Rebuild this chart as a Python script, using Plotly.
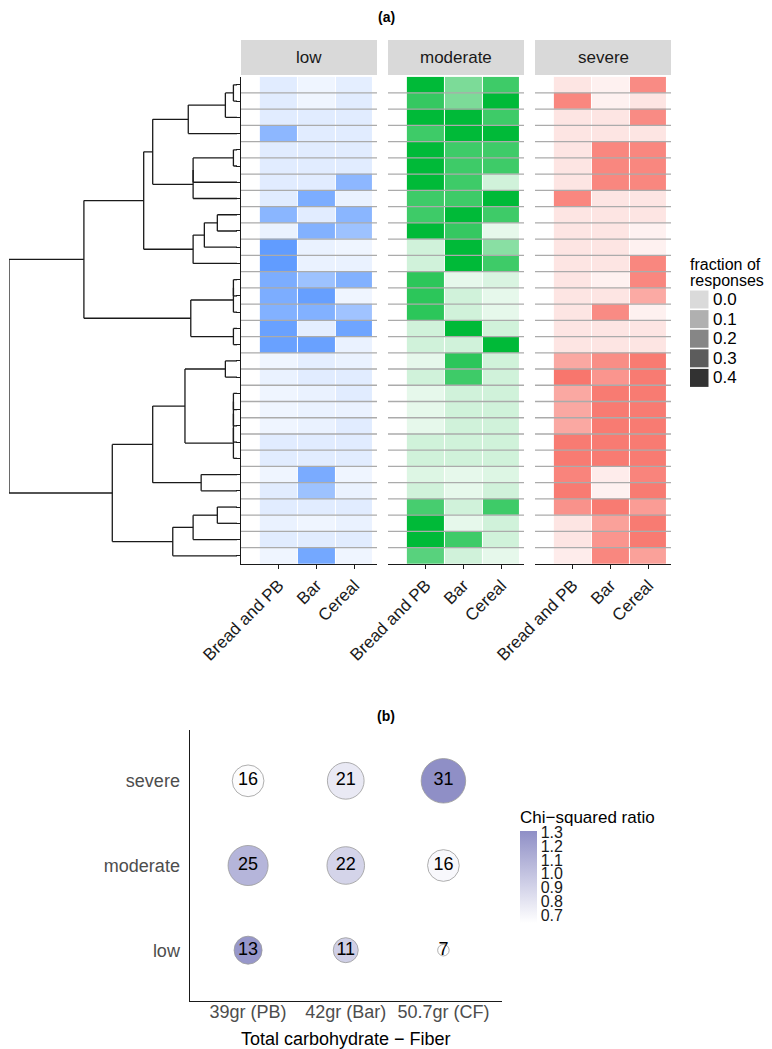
import plotly.graph_objects as go

PAGE_OFFSET = 8  # default page margin around the plot div
W, H = 772 - 2 * PAGE_OFFSET, 1049 - PAGE_OFFSET
FONT = "Liberation Sans, Arial, sans-serif"

# ---------------- data: panel (a) ----------------
products = ["Bread and PB", "Bar", "Cereal"]
severities = ["low", "moderate", "severe"]
n_rows = 30

low_pb = [0.05, 0.05, 0.05, 0.36, 0.05, 0.05, 0.05, 0.05, 0.37, 0.02, 0.52, 0.52, 0.42, 0.42, 0.40,
          0.49, 0.49, 0.00, 0.02, 0.00, 0.00, 0.00, 0.05, 0.05, 0.00, 0.05, 0.05, 0.02, 0.05, 0.00]
low_bar = [0.00, 0.00, 0.05, 0.05, 0.05, 0.05, 0.05, 0.42, 0.05, 0.40, 0.02, 0.02, 0.30, 0.50, 0.40,
           0.04, 0.49, 0.04, 0.05, 0.02, 0.02, 0.02, 0.05, 0.05, 0.43, 0.30, 0.05, 0.00, 0.05, 0.45]
low_cer = [0.04, 0.05, 0.05, 0.05, 0.05, 0.05, 0.36, 0.02, 0.37, 0.30, 0.00, 0.02, 0.40, 0.00, 0.29,
           0.47, 0.02, 0.02, 0.05, 0.05, 0.02, 0.05, 0.05, 0.05, 0.00, 0.02, 0.05, 0.02, 0.05, 0.00]

mod_pb = [0.52, 0.40, 0.52, 0.38, 0.52, 0.52, 0.52, 0.38, 0.38, 0.52, 0.05, 0.05, 0.42, 0.42, 0.42,
          0.05, 0.05, 0.00, 0.05, 0.00, 0.00, 0.00, 0.05, 0.05, 0.02, 0.05, 0.36, 0.52, 0.52, 0.32]
mod_bar = [0.24, 0.24, 0.52, 0.52, 0.38, 0.38, 0.38, 0.38, 0.52, 0.40, 0.52, 0.52, 0.00, 0.05, 0.05,
           0.52, 0.05, 0.42, 0.38, 0.05, 0.05, 0.05, 0.05, 0.05, 0.00, 0.00, 0.05, 0.00, 0.38, 0.05]
mod_cer = [0.38, 0.52, 0.38, 0.52, 0.38, 0.38, 0.05, 0.52, 0.38, 0.00, 0.21, 0.38, 0.03, 0.00, 0.00,
           0.05, 0.52, 0.05, 0.05, 0.05, 0.05, 0.05, 0.05, 0.05, 0.02, 0.05, 0.38, 0.05, 0.05, 0.00]

sev_pb = [0.05, 0.45, 0.05, 0.05, 0.05, 0.05, 0.05, 0.45, 0.05, 0.05, 0.05, 0.05, 0.05, 0.05, 0.05,
          0.05, 0.05, 0.31, 0.52, 0.31, 0.31, 0.31, 0.50, 0.50, 0.46, 0.50, 0.40, 0.05, 0.05, 0.02]
sev_bar = [0.00, 0.00, 0.05, 0.05, 0.45, 0.45, 0.45, 0.05, 0.05, 0.05, 0.05, 0.05, 0.00, 0.05, 0.43,
           0.05, 0.05, 0.42, 0.39, 0.50, 0.50, 0.50, 0.50, 0.50, 0.02, 0.00, 0.50, 0.34, 0.39, 0.45]
sev_cer = [0.43, 0.05, 0.43, 0.05, 0.45, 0.45, 0.45, 0.05, 0.05, 0.00, 0.00, 0.45, 0.45, 0.30, 0.00,
           0.05, 0.05, 0.50, 0.50, 0.50, 0.50, 0.50, 0.50, 0.50, 0.46, 0.50, 0.36, 0.50, 0.50, 0.34]

facet_colors = ["#619CFF", "#00BA38", "#F8766D"]
legend_breaks = [0.0, 0.1, 0.2, 0.3, 0.4]
alpha_max_value = 0.52

# dendrogram linkage: (child_a, child_b, merge height); leaves are 0..29 in plotted order
linkage = [
    (0, 1, 3.7), (30, 2, 12.0), (31, 3, 50.3), (4, 5, 3.7), (33, 6, 45.3), (34, 7, 45.3),
    (32, 35, 87.0), (8, 9, 20.3), (37, 10, 33.7), (38, 11, 45.3), (36, 39, 96.3),
    (12, 13, 3.7), (41, 14, 3.7), (15, 16, 3.7), (42, 43, 47.7), (40, 44, 158.0),
    (17, 18, 12.0), (19, 20, 3.7), (47, 21, 3.7), (48, 22, 3.7), (49, 23, 3.7),
    (46, 50, 53.7), (24, 25, 37.0), (51, 52, 87.0), (26, 27, 20.3), (54, 28, 45.3),
    (55, 29, 66.3), (53, 56, 128.7), (45, 57, 235.3),
]

# ---------------- data: panel (b) ----------------
carb_labels = ["39gr (PB)", "42gr (Bar)", "50.7gr (CF)"]
sev_rows = ["low", "moderate", "severe"]
counts_low = [13, 11, 7]
counts_mod = [25, 22, 16]
counts_sev = [16, 21, 31]
chi_low = [1.26, 0.93, 0.64]
chi_mod = [1.08, 0.90, 0.68]
chi_sev = [0.66, 0.77, 1.31]
chi_ticks = [0.7, 0.8, 0.9, 1.0, 1.1, 1.2, 1.3]


def px_x(p):
    return min(1.0, max(0.0, (p - PAGE_OFFSET) / W))


def px_y(p):
    return min(1.0, max(0.0, 1 - (p - PAGE_OFFSET) / H))


def blend(hex_color, a, bg=(255, 255, 255)):
    h = hex_color.lstrip("#")
    r, g, b = int(h[0:2], 16), int(h[2:4], 16), int(h[4:6], 16)
    c = [round(bg[i] * (1 - a) + v * a) for i, v in enumerate((r, g, b))]
    return "#%02x%02x%02x" % tuple(c)


fig = go.Figure()

# heat panel geometry (px)
top_px, bot_px = 76.7, 563.9
ydom = [px_y(bot_px), px_y(top_px)]
facet_px = [(241, 377), (388, 524), (535, 671)]

# ---- dendrogram
pos = {i: float(i) for i in range(n_rows)}
hgt = {i: 0.0 for i in range(n_rows)}
dx, dy = [], []
for k, (a, b, h) in enumerate(linkage):
    nid = n_rows + k
    for c in (a, b):
        dx += [hgt[c], h, None]
        dy += [pos[c], pos[c], None]
    dx += [h, h, None]
    dy += [pos[a], pos[b], None]
    pos[nid] = (pos[a] + pos[b]) / 2
    hgt[nid] = h
root_h = max(hgt.values())
fig.add_trace(go.Scatter(x=dx, y=dy, mode="lines", line=dict(color="#1a1a1a", width=1.3),
                         hoverinfo="skip", showlegend=False, xaxis="x", yaxis="y",
                         cliponaxis=False))

# ---- heatmaps
facet_data = [(low_pb, low_bar, low_cer), (mod_pb, mod_bar, mod_cer), (sev_pb, sev_bar, sev_cer)]
shapes = []
annotations = []
for f, (cols, base) in enumerate(zip(facet_data, facet_colors)):
    ax = f + 2
    z = [[cols[0][i], cols[1][i], cols[2][i]] for i in range(n_rows)]
    fig.add_trace(go.Heatmap(
        x=[1, 2, 3], y=list(range(n_rows)), z=z,
        colorscale=[[0, blend(base, 0.1)], [1, base]], zmin=0, zmax=alpha_max_value,
        showscale=False, xgap=1, hoverinfo="skip",
        xaxis="x%d" % ax, yaxis="y%d" % ax))
    for i in range(n_rows - 1):
        shapes.append(dict(type="line", xref="x%d domain" % ax, yref="y%d" % ax,
                           x0=0, x1=1, y0=i + 0.5, y1=i + 0.5,
                           line=dict(color="#ababab", width=1.3), layer="above"))
    x0p, x1p = facet_px[f]
    shapes.append(dict(type="rect", xref="paper", yref="paper",
                       x0=px_x(x0p), x1=px_x(x1p), y0=px_y(75), y1=px_y(40),
                       fillcolor="#d9d9d9", line=dict(width=0)))
    annotations.append(dict(text=severities[f], xref="paper", yref="paper",
                            x=px_x((x0p + x1p) / 2), y=px_y(57.5), showarrow=False,
                            font=dict(size=17, color="#1a1a1a", family=FONT),
                            xanchor="center", yanchor="middle"))

# ---- legend for fraction of responses
annotations.append(dict(text="fraction of", xref="paper", yref="paper", x=px_x(688), y=px_y(264),
                        showarrow=False, xanchor="left", yanchor="middle",
                        font=dict(size=16, color="#000000", family=FONT)))
annotations.append(dict(text="responses", xref="paper", yref="paper", x=px_x(688), y=px_y(281),
                        showarrow=False, xanchor="left", yanchor="middle",
                        font=dict(size=16, color="#000000", family=FONT)))
for k, v in enumerate(legend_breaks):
    a = 0.1 + 0.9 * v / alpha_max_value
    col = blend("#000000", a, bg=(242, 242, 242))
    yc = 299.5 + k * 19.6
    shapes.append(dict(type="rect", xref="paper", yref="paper",
                       x0=px_x(690), x1=px_x(708.5), y0=px_y(yc + 9), y1=px_y(yc - 9),
                       fillcolor=col, line=dict(width=0)))
    annotations.append(dict(text="%.1f" % v, xref="paper", yref="paper", x=px_x(711), y=px_y(yc),
                            showarrow=False, xanchor="left", yanchor="middle",
                            font=dict(size=17, color="#000000", family=FONT)))

# ---- panel (b) bubbles
bx, by, bc, bchi = [], [], [], []
for r, (cnts, chis) in enumerate([(counts_low, chi_low), (counts_mod, chi_mod), (counts_sev, chi_sev)]):
    for c in range(3):
        bx.append(c + 1)
        by.append(r + 1)
        bc.append(cnts[c])
        bchi.append(chis[c])
cmin_v, cmax_v = min(bc), max(bc)
sizes = [11.5 + 33 * ((v - cmin_v) / (cmax_v - cmin_v)) ** 0.5 for v in bc]
bar_top, bar_bot, title_room = 831.7, 923.3, 24
fig.add_trace(go.Scatter(
    x=bx, y=by, mode="markers+text", text=[str(v) for v in bc],
    textposition="middle center", textfont=dict(size=18, color="#000000", family=FONT),
    marker=dict(size=sizes, color=bchi, colorscale=[[0, "#ffffff"], [1, "#8f8fc6"]],
                cmin=min(bchi), cmax=max(bchi), line=dict(color="#9a9a9a", width=0.8), opacity=1,
                showscale=True,
                colorbar=dict(
                    title=dict(text="Chi−squared ratio", side="top",
                               font=dict(size=17, color="#000000", family=FONT)),
                    x=px_x(520), xanchor="left", xpad=0,
                    y=px_y(bar_bot), yanchor="bottom", ypad=0,
                    len=bar_bot - bar_top + title_room, lenmode="pixels",
                    thickness=16.7, thicknessmode="pixels",
                    outlinewidth=0, ticks="",
                    tickvals=chi_ticks, ticktext=["%.1f" % t for t in chi_ticks],
                    tickfont=dict(size=16, color="#1a1a1a", family=FONT))),
    hoverinfo="skip", showlegend=False, xaxis="x5", yaxis="y5"))

annotations.append(dict(text="<b>(a)</b>", xref="paper", yref="paper", x=px_x(386), y=px_y(17),
                        showarrow=False, xanchor="center", yanchor="middle",
                        font=dict(size=14, color="#000000", family=FONT)))
annotations.append(dict(text="<b>(b)</b>", xref="paper", yref="paper", x=px_x(386), y=px_y(716),
                        showarrow=False, xanchor="center", yanchor="middle",
                        font=dict(size=14, color="#000000", family=FONT)))
annotations.append(dict(text="Total carbohydrate − Fiber", xref="paper", yref="paper",
                        x=px_x(346), y=px_y(1039), showarrow=False,
                        xanchor="center", yanchor="middle",
                        font=dict(size=18, color="#000000", family=FONT)))

layout = dict(
    width=W, height=H, margin=dict(l=0, r=0, t=0, b=0, autoexpand=False),
    paper_bgcolor="white", plot_bgcolor="rgba(0,0,0,0)",
    font=dict(family=FONT), showlegend=False,
    shapes=shapes, annotations=annotations,
    xaxis=dict(domain=[px_x(9), px_x(237)], range=[root_h, 0], visible=False, automargin=False),
    yaxis=dict(domain=ydom, range=[n_rows - 0.5, -0.5], visible=False, automargin=False),
)
for f in range(3):
    ax = f + 2
    x0p, x1p = facet_px[f]
    layout["xaxis%d" % ax] = dict(
        domain=[px_x(x0p), px_x(x1p)], range=[0, 3.6], anchor="y%d" % ax, automargin=False,
        tickvals=[1, 2, 3], ticktext=products, tickangle=-45,
        ticks="outside", ticklen=4, tickcolor="#1a1a1a", tickwidth=1,
        showline=True, linecolor="#1a1a1a", linewidth=1, showgrid=False, zeroline=False,
        tickfont=dict(size=17, color="#1a1a1a", family=FONT))
    layout["yaxis%d" % ax] = dict(
        domain=ydom, range=[n_rows - 0.5, -0.5], anchor="x%d" % ax, automargin=False,
        tickvals=list(range(n_rows)), showticklabels=False,
        ticks="outside" if f == 0 else "", ticklen=4, tickcolor="#1a1a1a", tickwidth=1,
        showline=(f == 0), linecolor="#1a1a1a", linewidth=1, showgrid=False, zeroline=False)

layout["xaxis5"] = dict(
    domain=[px_x(189.5), px_x(502)], range=[0.4, 3.6], anchor="y5", automargin=False,
    tickvals=[1, 2, 3], ticktext=carb_labels, ticks="", ticklabelstandoff=-6,
    showline=True, linecolor="#1a1a1a", linewidth=1, showgrid=False, zeroline=False,
    tickfont=dict(size=18, color="#4d4d4d", family=FONT))
layout["yaxis5"] = dict(
    domain=[px_y(1001), px_y(730)], range=[0.4, 3.6], anchor="x5", automargin=False,
    tickvals=[1, 2, 3], ticktext=sev_rows, ticks="", ticklabelstandoff=5,
    showline=True, linecolor="#1a1a1a", linewidth=1, showgrid=False, zeroline=False,
    tickfont=dict(size=18, color="#4d4d4d", family=FONT))

fig.update_layout(**layout)
fig.write_html("out.html")
